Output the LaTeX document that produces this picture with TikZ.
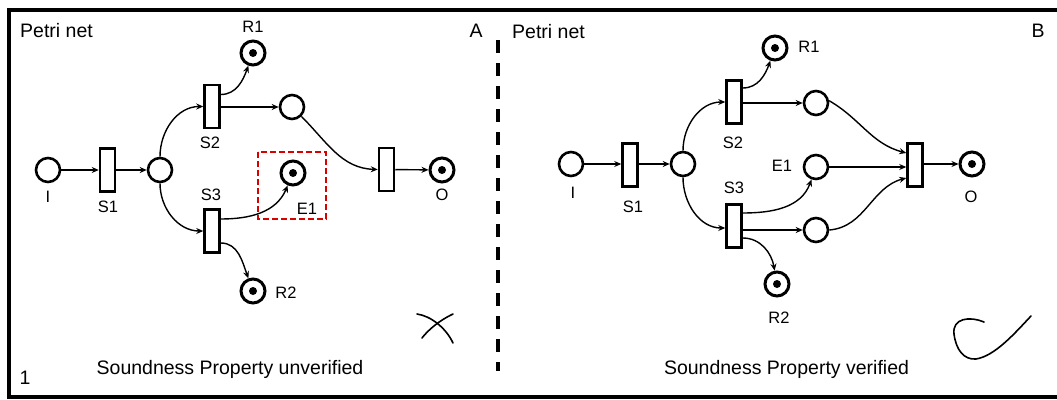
\documentclass[tikz,border=0pt]{standalone}
\usepackage{fontspec}
\setmainfont{Liberation Sans}
\usetikzlibrary{arrows.meta,calc}
\begin{document}
\begin{tikzpicture}[x=1pt,y=1pt,
  place/.style={circle,draw,line width=2.6pt,minimum size=24pt,inner sep=0pt},
  token/.style={place,line width=3pt,path picture={\fill (path picture bounding box.center) circle (4pt);}},
  trans/.style={rectangle,draw,line width=2.5pt,minimum width=15pt,minimum height=43pt,inner sep=0pt},
  arr/.style={line width=1.4pt,-{Stealth[length=7pt,width=6pt]}},
  lbl/.style={font=\fontsize{16.5}{18}\selectfont,inner sep=0pt},
  ttl/.style={font=\fontsize{19.5}{22}\selectfont,inner sep=0pt},
  sepline/.style={line width=4pt,dash pattern=on 13pt off 10pt},
  hl/.style={draw=red!85!black,line width=1.5pt,dash pattern=on 6pt off 3pt},
  handmark/.style={line width=1.6pt,line cap=round}
]
\useasboundingbox (0,0) rectangle (1057,-399);
\fill[white] (0,0) rectangle (1057,-399);
\draw[line width=4pt] (1057,-9.5) -- (8.5,-9.5) -- (8.5,-397) -- (1057,-397);
\draw[sepline] (498,-40) -- (498,-371);

% ---------- Panel A ----------
\node[ttl,anchor=west] (ptA) at (20,-31) {Petri net};
\node[ttl] (lA) at (476,-31) {A};
\node[ttl] (one) at (25,-378) {1};
\node[ttl] (sA) at (230,-369) {Soundness Property unverified};

\node[place] (IA) at (48,-170) {};
\node[trans] (S1A) at (107.5,-170) {};
\node[place] (PA) at (160,-170) {};
\node[trans] (S2A) at (212,-106.5) {};
\node[trans] (S3A) at (212,-231) {};
\node[token] (R1A) at (253,-53) {};
\node[place] (QA) at (292,-107) {};
\node[token] (EA) at (293,-173) {};
\node[token] (R2A) at (253,-291) {};
\node[trans] (TA) at (386.5,-169.5) {};
\node[token] (OA) at (442,-170) {};

\node[lbl] (lIA) at (48,-197) {I};
\node[lbl] (lS1A) at (108,-207) {S1};
\node[lbl] (lS2A) at (210,-143) {S2};
\node[lbl] (lS3A) at (211,-195) {S3};
\node[lbl] (lR1A) at (253,-27) {R1};
\node[lbl] (lEA) at (307,-209) {E1};
\node[lbl] (lR2A) at (286,-293) {R2};
\node[lbl] (lOA) at (442,-195) {O};

\draw[hl] (258,-152) rectangle (326,-219);

\draw[arr] (IA) -- (S1A);
\draw[arr] (S1A) -- (PA);
\draw[arr] (PA.north) to[out=90,in=180] (S2A.west);
\draw[arr] (PA.south) to[out=-90,in=180] (S3A.west);
\draw[arr] ([yshift=12pt]S2A.east) to[out=0,in=-110] (R1A);
\draw[arr] (S2A.east |- QA.west) -- (QA.west);
\draw[arr] (QA) to[out=-45,in=178] (TA.west);
\draw[arr] ([yshift=12pt]S3A.east) to[out=0,in=-113] (EA);
\draw[arr] ([yshift=-12pt]S3A.east) to[out=0,in=110] (R2A);
\draw[arr] (TA) -- (OA);

\draw[handmark] (417,-314) .. controls (431,-316) and (446,-328) .. (453,-343);
\draw[handmark] (453,-314) .. controls (440,-320) and (428,-330) .. (422,-338);

% ---------- Panel B ----------
\node[ttl,anchor=west] (ptB) at (512,-32) {Petri net};
\node[ttl] (lB) at (1038,-31) {B};
\node[ttl] (sB) at (786.5,-369) {Soundness Property verified};

\node[place] (IB) at (571,-164) {};
\node[trans] (S1B) at (630,-165) {};
\node[place] (PB) at (683,-164) {};
\node[trans] (S2B) at (734,-102) {};
\node[trans] (S3B) at (734,-226) {};
\node[token] (R1B) at (775,-48) {};
\node[place] (QB) at (816,-103) {};
\node[place] (EB) at (816,-167) {};
\node[place] (LB) at (816,-230) {};
\node[token] (R2B) at (777,-284) {};
\node[trans] (TB) at (915,-165) {};
\node[token] (OB) at (972,-164) {};

\node[lbl] (lIB) at (573,-193) {I};
\node[lbl] (lS1B) at (633,-207) {S1};
\node[lbl] (lS2B) at (733,-143) {S2};
\node[lbl] (lS3B) at (734,-188) {S3};
\node[lbl] (lR1B) at (809,-47) {R1};
\node[lbl] (lEB) at (782,-166) {E1};
\node[lbl] (lR2B) at (779,-318) {R2};
\node[lbl] (lOB) at (971,-197) {O};

\draw[arr] (IB) -- (S1B.west |- IB.east);
\draw[arr] (S1B.east |- PB.west) -- (PB);
\draw[arr] (PB.north) to[out=90,in=180] (S2B.west);
\draw[arr] (PB.south) to[out=-90,in=180] ([yshift=-2pt]S3B.west);
\draw[arr] ([yshift=14pt]S2B.east) to[out=0,in=-110] (R1B);
\draw[arr] (S2B.east |- QB.west) -- (QB.west);
\draw[arr] ([yshift=13pt]S3B.east) to[out=0,in=-110] (EB);
\draw[arr] (S3B.east |- LB.west) -- (LB.west);
\draw[arr] ([yshift=-12pt]S3B.east) to[out=0,in=100] (R2B);
\draw[arr] (QB.10) to[out=-30,in=165] ([yshift=12pt]TB.west);
\draw[arr] (EB.east) -- (EB.east -| TB.west);
\draw[arr] (LB.east) to[out=5,in=195] ([yshift=-13pt]TB.west);
\draw[arr] (TB.east |- OB.west) -- (OB);

\draw[handmark] (984,-322) .. controls (970,-316) and (952,-318) .. (954,-334)
  .. controls (956,-350) and (964,-360) .. (976,-359)
  .. controls (995,-356) and (1015,-333) .. (1031,-316);
\end{tikzpicture}
\end{document}
